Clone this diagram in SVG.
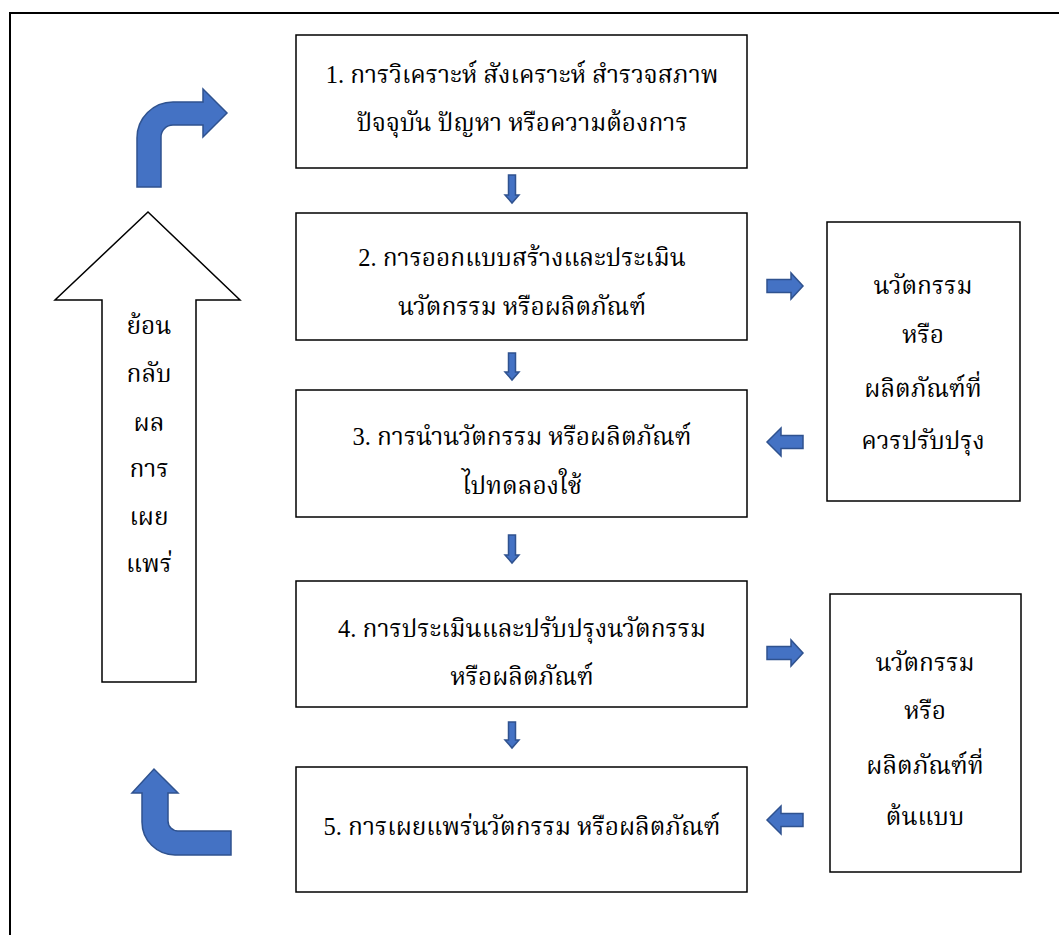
<svg xmlns="http://www.w3.org/2000/svg" width="1059" height="935" viewBox="0 0 1059 935">
<style>
.box{fill:#fff;stroke:#000;stroke-width:1.5}
.blue{fill:#4472C4;stroke:#2F528F;stroke-width:1.5;stroke-linejoin:miter}
.t{font-family:"Liberation Serif","Noto Serif Thai","Noto Sans Thai",serif;font-size:24.5px;fill:#000;text-anchor:middle}
</style>
<rect x="0" y="0" width="1059" height="935" fill="#fff"/>
<rect x="10" y="13" width="1060" height="940" fill="none" stroke="#000" stroke-width="2"/>
<g id="feedback">
<path d="M148,212 L240,300 L196,300 L196,682 L102,682 L102,300 L55,300 Z" fill="#fff" stroke="#000" stroke-width="1.5"/>
<text class="t" x="149" y="334">ย้อน</text>
<text class="t" x="149" y="382">กลับ</text>
<text class="t" x="149" y="431">ผล</text>
<text class="t" x="149" y="477">การ</text>
<text class="t" x="149" y="525">เผย</text>
<text class="t" x="149" y="572">แพร่</text>
</g>
<g id="bend-top">
<path class="blue" d="M137,187 L137,138 A36,36 0 0 1 173,102 L203,102 L203,89 L227,113 L203,137 L203,125 L173,125 A12,12 0 0 0 161,137 L161,187 Z"/>
</g>
<g id="bend-bottom">
<path class="blue" d="M231,831 L178,831 A10,10 0 0 1 168,821 L168,793 L178,793 L154,769 L132,793 L142,793 L142,822 A33,33 0 0 0 175,855 L231,855 Z"/>
</g>
<g id="step1">
<rect class="box" x="296" y="35" width="451" height="133"/>
<text class="t" x="522" y="83">1. การวิเคราะห์ สังเคราะห์ สำรวจสภาพ</text>
<text class="t" x="522" y="131">ปัจจุบัน ปัญหา หรือความต้องการ</text>
</g>
<g id="step2">
<rect class="box" x="296" y="213" width="451" height="127"/>
<text class="t" x="522" y="266">2. การออกแบบสร้างและประเมิน</text>
<text class="t" x="522" y="315">นวัตกรรม หรือผลิตภัณฑ์</text>
</g>
<g id="step3">
<rect class="box" x="296" y="390" width="451" height="127"/>
<text class="t" x="522" y="445">3. การนำนวัตกรรม หรือผลิตภัณฑ์</text>
<text class="t" x="522" y="494">ไปทดลองใช้</text>
</g>
<g id="step4">
<rect class="box" x="296" y="581" width="451" height="126"/>
<text class="t" x="522" y="637">4. การประเมินและปรับปรุงนวัตกรรม</text>
<text class="t" x="522" y="685">หรือผลิตภัณฑ์</text>
</g>
<g id="step5">
<rect class="box" x="296" y="767" width="451" height="125"/>
<text class="t" x="522" y="835">5. การเผยแพร่นวัตกรรม หรือผลิตภัณฑ์</text>
</g>
<g id="out-improve">
<rect class="box" x="827" y="222" width="193" height="279"/>
<text class="t" x="923" y="294">นวัตกรรม</text>
<text class="t" x="923" y="343">หรือ</text>
<text class="t" x="923" y="397">ผลิตภัณฑ์ที่</text>
<text class="t" x="923" y="449">ควรปรับปรุง</text>
</g>
<g id="out-prototype">
<rect class="box" x="830" y="594" width="191" height="278"/>
<text class="t" x="925" y="671">นวัตกรรม</text>
<text class="t" x="925" y="719">หรือ</text>
<text class="t" x="925" y="774">ผลิตภัณฑ์ที่</text>
<text class="t" x="925" y="825">ต้นแบบ</text>
</g>
<g id="connectors">
<path class="blue" d="M508.5,175 L515.5,175 L515.5,195 L519,195 L512,203 L505,195 L508.5,195 Z"/>
<path class="blue" d="M508.5,353 L515.5,353 L515.5,372 L519,372 L512,380 L505,372 L508.5,372 Z"/>
<path class="blue" d="M508.5,535 L515.5,535 L515.5,555 L519,555 L512,563 L505,555 L508.5,555 Z"/>
<path class="blue" d="M508.5,722 L515.5,722 L515.5,740 L519,740 L512,748 L505,740 L508.5,740 Z"/>
<path class="blue" d="M767,279.5 L791,279.5 L791,273 L803,286 L791,299 L791,292.5 L767,292.5 Z"/>
<path class="blue" d="M767,646.5 L791,646.5 L791,640 L803,653 L791,666 L791,659.5 L767,659.5 Z"/>
<path class="blue" d="M803,435.5 L781,435.5 L781,428 L767,442 L781,456 L781,448.5 L803,448.5 Z"/>
<path class="blue" d="M803,813.5 L781,813.5 L781,806 L767,820 L781,834 L781,826.5 L803,826.5 Z"/>
</g>
</svg>
